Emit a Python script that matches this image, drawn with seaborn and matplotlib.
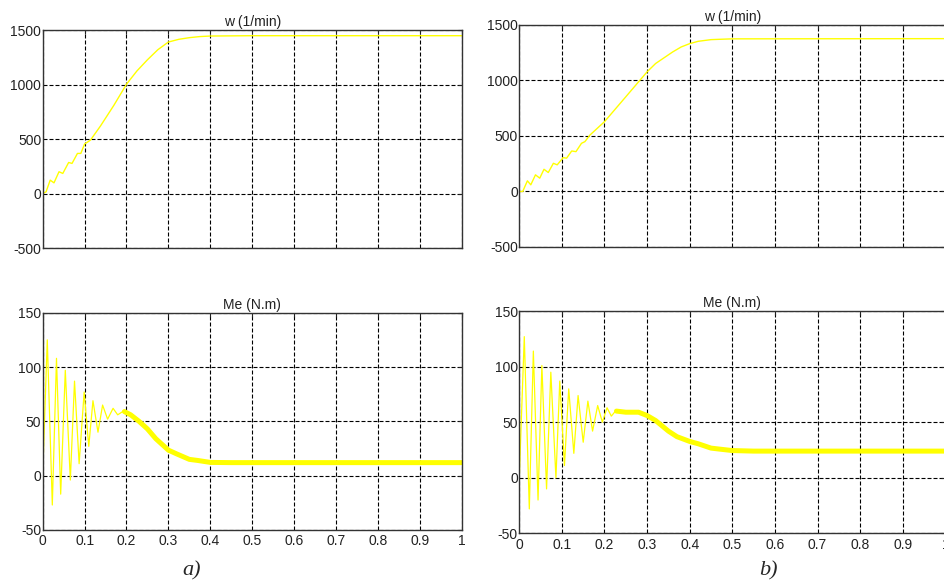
import matplotlib
matplotlib.use("Agg")
import matplotlib.pyplot as plt
import seaborn as sns

# estilo
sns.set_style("white")
plt.rcParams['font.family'] = ['Liberation Sans', 'DejaVu Sans']

# --- datos ---
# a) velocidad w (1/min)
t_w_a = [0, 0.008, 0.018, 0.027, 0.039, 0.048, 0.062, 0.070, 0.083, 0.091, 0.100,
         0.114, 0.138, 0.170, 0.200, 0.225, 0.250, 0.275, 0.300, 0.325, 0.350,
         0.375, 0.400, 0.500, 1.0]
w_a = [0, 15, 123, 98, 200, 184, 285, 276, 368, 368, 454,
       490, 620, 810, 1003, 1125, 1227, 1320, 1390, 1415, 1430,
       1440, 1445, 1448, 1448]

# b) velocidad w (1/min)
t_w_b = [0, 0.008, 0.019, 0.027, 0.038, 0.048, 0.058, 0.068, 0.080, 0.089, 0.103,
         0.111, 0.123, 0.133, 0.146, 0.154, 0.166, 0.200, 0.250, 0.300, 0.320,
         0.360, 0.380, 0.400, 0.420, 0.450, 0.470, 0.500, 1.0]
w_b = [0, 0, 96, 60, 150, 120, 200, 171, 254, 240, 305,
       300, 365, 359, 434, 449, 509, 629, 853, 1078, 1153,
       1257, 1302, 1332, 1353, 1368, 1371, 1375, 1377]

# a) par Me (N.m): oscilacion de arranque
t_me_a_osc = [0, 0.011, 0.023, 0.033, 0.043, 0.054, 0.066, 0.076, 0.087, 0.099,
              0.110, 0.120, 0.132, 0.143, 0.155, 0.168, 0.179, 0.195]
me_a_osc = [0, 125, -27, 108, -17, 97, -4, 87, 11, 77,
            27, 69, 40, 65, 52, 62, 56, 60]
# a) par Me: tramo de ruido (banda gruesa)
t_me_a_band = [0.195, 0.210, 0.230, 0.250, 0.270, 0.300, 0.320, 0.350, 0.370,
               0.400, 0.450, 1.0]
me_a_band = [59, 56, 50, 43, 34, 23.5, 20, 15, 14, 12.2, 12, 12]

# b) par Me (N.m)
t_me_b_osc = [0, 0.0117, 0.0235, 0.033, 0.044, 0.053, 0.064, 0.074, 0.086, 0.095,
              0.106, 0.116, 0.128, 0.138, 0.150, 0.161, 0.172, 0.184, 0.195,
              0.206, 0.216, 0.228]
me_b_osc = [0, 127, -28, 114, -20, 101, -10, 95, 0, 87,
            11, 80, 22, 74, 32, 69, 42, 65, 50,
            63, 55.5, 61]
t_me_b_band = [0.228, 0.250, 0.280, 0.300, 0.320, 0.350, 0.370, 0.400, 0.420,
               0.450, 0.470, 0.500, 0.550, 1.0]
me_b_band = [60, 59, 59, 56, 51.5, 42, 37, 32.7, 30.6,
             26.7, 25.8, 24.5, 24, 24]

x_ticks = [0, 0.1, 0.2, 0.3, 0.4, 0.5, 0.6, 0.7, 0.8, 0.9, 1.0]
x_labels = ['0', '0.1', '0.2', '0.3', '0.4', '0.5', '0.6', '0.7', '0.8', '0.9', '1']
w_ticks = [-500, 0, 500, 1000, 1500]
me_ticks = [-50, 0, 50, 100, 150]

amarillo = '#ffff00'

fig = plt.figure(figsize=(9.44, 5.81), dpi=100)
ax_wa = fig.add_axes([0.0452, 0.5731, 0.4439, 0.3752])
ax_wb = fig.add_axes([0.5501, 0.5749, 0.4513, 0.3821])
ax_ma = fig.add_axes([0.0452, 0.0878, 0.4439, 0.3740])
ax_mb = fig.add_axes([0.5501, 0.0820, 0.4513, 0.3826])


def estilo(ax, yticks, titulo, etiquetas_x):
    ax.set_xlim(0, 1)
    ax.set_ylim(yticks[0], yticks[-1])
    ax.set_xticks(x_ticks)
    ax.set_yticks(yticks)
    ax.set_xticklabels(x_labels if etiquetas_x else [])
    ax.set_yticklabels([str(v) for v in yticks])
    ax.grid(True, color='black', linestyle=(0, (3.6, 1.8)), linewidth=0.8)
    ax.tick_params(direction='in', length=3, width=0.8, pad=1,
                   labelsize=10, colors='#222222', top=True, right=True)
    ax.tick_params(axis='x', pad=3)
    for s in ax.spines.values():
        s.set_color('#333333')
        s.set_linewidth(1.0)
    ax.set_title(titulo, fontsize=10, color='#222222', pad=3)
    ax.set_xlabel('')
    ax.set_ylabel('')


sns.lineplot(x=t_w_a, y=w_a, ax=ax_wa, color=amarillo, linewidth=1.0)
sns.lineplot(x=t_w_b, y=w_b, ax=ax_wb, color=amarillo, linewidth=1.0)

sns.lineplot(x=t_me_a_osc, y=me_a_osc, ax=ax_ma, color=amarillo, linewidth=0.9)
sns.lineplot(x=t_me_a_band, y=me_a_band, ax=ax_ma, color=amarillo, linewidth=3.6)
sns.lineplot(x=t_me_b_osc, y=me_b_osc, ax=ax_mb, color=amarillo, linewidth=0.9)
sns.lineplot(x=t_me_b_band, y=me_b_band, ax=ax_mb, color=amarillo, linewidth=3.6)

estilo(ax_wa, w_ticks, 'w (1/min)', False)
estilo(ax_wb, w_ticks, 'w (1/min)', False)
estilo(ax_ma, me_ticks, 'Me (N.m)', True)
estilo(ax_mb, me_ticks, 'Me (N.m)', True)

fig.text(0.203, 0.0103, 'a)', family=['Liberation Serif', 'DejaVu Serif'],
         style='italic', fontsize=16, ha='center', va='baseline')
fig.text(0.8136, 0.0103, 'b)', family=['Liberation Serif', 'DejaVu Serif'],
         style='italic', fontsize=16, ha='center', va='baseline')

fig.savefig('out.png', dpi=100)
